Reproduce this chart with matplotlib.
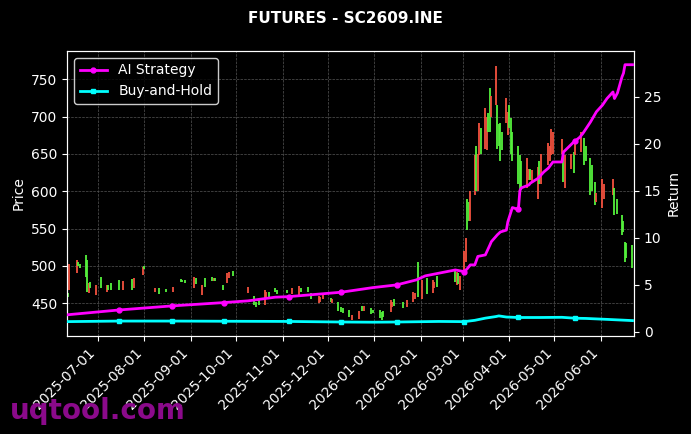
import numpy as np
import pandas as pd
import matplotlib
matplotlib.use("Agg")
import matplotlib.pyplot as plt
import matplotlib.dates as mdates

# ---- trading calendar (Chinese exchange holidays removed) ----
holidays = ["2025-10-01", "2025-10-02", "2025-10-03", "2025-10-06", "2025-10-07", "2025-10-08",
            "2026-01-01", "2026-01-02",
            "2026-02-16", "2026-02-17", "2026-02-18", "2026-02-19", "2026-02-20", "2026-02-23",
            "2026-04-06", "2026-05-01", "2026-05-04", "2026-05-05", "2026-06-19"]
days = pd.bdate_range("2025-06-10", "2026-06-22")
days = days[~days.isin(pd.to_datetime(holidays))]

# ---- candles: trading-day index, open, close ----
candle_idx = [1, 2, 5, 6, 7, 9, 10, 11, 12, 14, 17, 19, 20, 22, 25, 28, 32, 33, 37, 38,
              43, 44, 48, 51, 54, 55, 57, 61, 62, 64, 66, 69, 70, 71, 74, 77, 78, 79, 81, 83,
              84, 86, 88, 89, 91, 93, 94, 99, 102, 105, 106, 109, 111, 114, 115, 117, 120, 121, 123, 125,
              126, 128, 130, 133, 135, 136, 139, 140, 141, 142, 143, 146, 147, 148, 152, 155, 157, 158, 160, 161,
              164, 166, 167, 169, 171, 172, 173, 174, 175, 176, 177, 178, 179, 180, 181, 182, 183, 184, 185, 186,
              187, 188, 189, 190, 191, 192, 193, 194, 195, 196, 197, 198, 199, 200, 201, 202, 204, 205, 206, 207,
              209, 210, 211, 214, 215, 216, 217, 218, 219, 220, 222, 224, 225, 227, 229, 230, 231, 232, 234, 235,
              237, 238, 242, 243, 245, 246, 247, 248, 249, 250]
opens = [463, 468, 490, 505, 502, 515, 508, 463, 478, 461, 485, 465, 474, 477, 481, 467, 482, 470, 488, 500,
         465, 470, 469, 465, 482, 481, 481, 470, 483, 461, 483, 485, 479, 484, 474, 477, 484, 493, 463, 460,
         452, 455, 448, 455, 465, 470, 468, 468, 462, 461, 470, 472, 464, 450, 452, 455, 457, 450, 452, 445,
         443, 441, 427, 429, 446, 440, 444, 441, 441, 438, 440, 438, 445, 456, 451, 445, 451, 455, 505, 456,
         483, 463, 470, 486, 495, 474, 490, 468, 488, 505, 590, 585, 560, 595, 660, 600, 648, 685, 657, 655,
         705, 738, 700, 715, 715, 690, 692, 680, 692, 675, 715, 698, 680, 660, 648, 640, 604, 615, 630, 612,
         590, 640, 610, 635, 640, 648, 650, 650, 648, 604, 630, 652, 648, 652, 671, 660, 644, 635, 612, 585,
         577, 590, 595, 604, 590, 568, 560, 532, 530, 528]
closes = [458, 503, 508, 500, 497, 485, 465, 477, 470, 474, 470, 474, 468, 468, 467, 480, 467, 484, 498, 496,
          470, 462, 465, 472, 478, 478, 477, 485, 476, 474, 471, 480, 484, 480, 467, 490, 492, 486, 471, 447,
          445, 448, 467, 465, 458, 465, 462, 463, 470, 473, 465, 465, 455, 459, 458, 461, 451, 456, 440, 438,
          437, 431, 434, 440, 439, 446, 436, 437, 430, 428, 432, 454, 452, 446, 444, 454, 465, 463, 458, 481,
          462, 481, 478, 472, 478, 492, 475, 486, 520, 537, 548, 560, 600, 648, 600, 650, 692, 650, 711, 700,
          680, 679, 728, 768, 657, 660, 640, 655, 725, 706, 685, 650, 640, 610, 595, 605, 644, 630, 615, 628,
          632, 610, 650, 665, 660, 684, 679, 670, 612, 648, 650, 625, 668, 679, 635, 640, 595, 600, 581, 598,
          617, 610, 617, 568, 570, 541, 545, 505, 510, 497]

# ---- strategy curves (trading-day index, return) ----
ai_idx = [0, 25, 50, 75, 81, 93, 100, 125, 140, 150, 159, 163, 171, 175, 177, 179, 180, 182, 185, 188,
          189, 191, 193, 195, 196, 199, 200, 201, 202, 205, 206, 209, 213, 214, 217, 218, 219, 224, 225, 226,
          228, 231, 235, 237, 240, 242, 243, 245, 246, 247, 248, 250]
ai_val = [1.78, 2.30, 2.73, 3.09, 3.27, 3.66, 3.72, 4.19, 4.68, 4.97, 5.50, 5.93, 6.56, 6.38, 6.70, 7.10, 7.10, 8.00, 8.16, 9.20,
          9.57, 10.3, 10.6, 10.8, 11.7, 13.2, 13.0, 15.0, 15.3, 15.6, 15.8, 16.3, 17.0, 17.4, 18.05, 18.05, 19.1, 20.2, 20.3, 20.7,
          21.1, 22.3, 23.4, 24.1, 24.8, 25.5, 24.8, 25.4, 27.1, 27.5, 28.4, 28.4]
bh_idx = [0, 25, 50, 75, 100, 125, 140, 150, 170, 175, 180, 185, 190, 192, 195, 200, 210, 218, 225, 230, 240, 250]
bh_val = [1.06, 1.12, 1.12, 1.10, 1.08, 1.02, 1.00, 1.02, 1.08, 1.06, 1.20, 1.43, 1.60, 1.67, 1.55, 1.50, 1.50, 1.52, 1.42, 1.40, 1.30, 1.17]

UP, DOWN = "#f4513f", "#55f23c"   # red = up, green = down
BG = "black"

fig = plt.figure(figsize=(6.91, 4.34), dpi=100, facecolor=BG)
ax = fig.add_axes([0.097, 0.226, 0.8205, 0.6565])
ax.set_facecolor(BG)

o = np.array(opens, float); c = np.array(closes, float)
cd = days[candle_idx]
cols = [UP if cc >= oo else DOWN for oo, cc in zip(o, c)]
ax.vlines(cd, np.minimum(o, c), np.maximum(o, c), colors=cols, lw=1.3, zorder=2)

ax.set_ylim(406, 788)
ax.set_xlim(pd.Timestamp("2025-06-10 10:00"), pd.Timestamp("2026-06-23"))
ax.grid(True, color="#555555", ls="--", lw=0.5, zorder=0)
ax.set_ylabel("Price", color="white", fontsize=10)
ax.xaxis.set_major_locator(mdates.MonthLocator())
ax.xaxis.set_major_formatter(mdates.DateFormatter("%Y-%m-%d"))
plt.setp(ax.get_xticklabels(), rotation=45, ha="right", rotation_mode="default")

ax2 = ax.twinx()
mk_ai = [i for i, k in enumerate(ai_idx) if k % 25 == 0 and 0 < k < 250]
mk_bh = [i for i, k in enumerate(bh_idx) if k % 25 == 0 and 0 < k < 250]
ax2.plot(days[ai_idx], ai_val, color="#ff00ff", lw=2, marker="o", ms=3.5,
         markevery=mk_ai, label="AI Strategy", zorder=3)
ax2.plot(days[bh_idx], bh_val, color="#00ffff", lw=2, marker="s", ms=3.5,
         markevery=mk_bh, label="Buy-and-Hold", zorder=3)
ax2.set_ylim(-0.46, 29.86)
ax2.set_ylabel("Return", color="white", fontsize=10)

for a in (ax, ax2):
    a.tick_params(colors="white", labelsize=10)
    for s in a.spines.values():
        s.set_color("white")

leg = ax2.legend(loc="upper left", facecolor=BG, edgecolor="white", fontsize=10)
for t in leg.get_texts():
    t.set_color("white")

fig.suptitle("FUTURES - SC2609.INE", color="white", fontsize=11, fontweight="bold", y=0.975)
fig.text(0.015, 0.035, "uqtool.com", color="#8b0a8b", fontsize=20, fontweight="bold", zorder=10)

fig.savefig("out.png", dpi=100, facecolor=BG)
